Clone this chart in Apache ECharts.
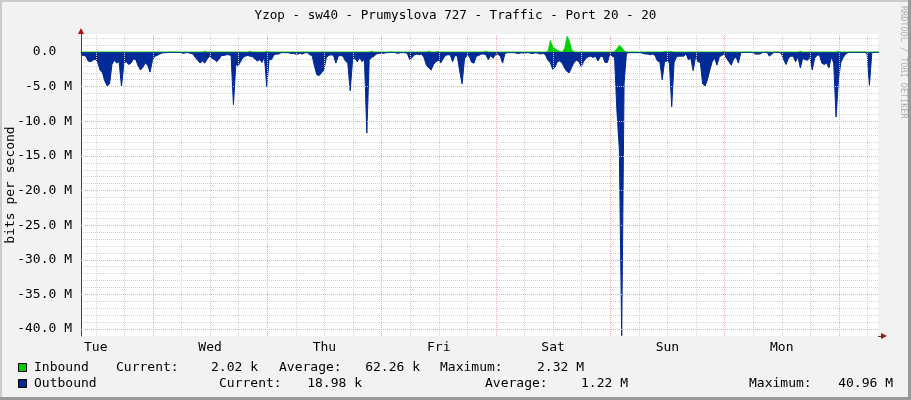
<!DOCTYPE html>
<html><head><meta charset="utf-8">
<script src="https://cdn.jsdelivr.net/npm/echarts@6/dist/echarts.min.js"></script>
<style>html,body{margin:0;padding:0;background:#f2f2f2}#c{width:911px;height:400px}</style>
</head><body><div id="c"></div>
<script>
// ---- data ----
const chartTitle = 'Yzop - sw40 - Prumyslova 727 - Traffic - Port 20 - 20';
const startHour = 8.9;      // hours after Tue 00:00 at left edge
const endHour = 176.2;
const stepHours = 0.5;
const dayLabels = ['Tue','Wed','Thu','Fri','Sat','Sun','Mon'];
const dayLabelHours = [12,36,60,84,108,132,156];
const majorXHours = [24,48,72,96,120,144,168];
const minorXHours = [12,18,30,36,42,54,60,66,78,84,90,102,108,114,126,132,138,150,156,162,174];
const majorYValues = [-5,-10,-15,-20,-25,-30,-35,-40];
// outbound traffic (Mbit/s, drawn negative)
const outbound = [
-0.4,-0.5,-0.6,-1.3,-1.4,-1.2,-1.0,-1.5,-2.6,-3.0,
-4.2,-4.9,-4.6,-1.8,-1.2,-1.6,-1.4,-5.0,-1.6,-1.4,
-1.8,-1.6,-1.0,-1.1,-2.0,-2.6,-2.2,-1.6,-1.9,-2.9,
-1.2,-0.6,-0.5,-0.3,-0.15,-0.1,-0.1,-0.05,-0.05,-0.05,
-0.05,-0.05,-0.1,-0.2,-0.1,-0.1,-0.2,-0.3,-0.8,-1.2,
-1.6,-1.3,-1.6,-1.0,-0.6,-0.9,-1.1,-1.4,-1.0,-0.5,
-0.5,-0.4,-0.4,-0.5,-7.6,-1.8,-2.0,-1.4,-0.8,-0.6,
-0.5,-0.6,-0.7,-1.0,-1.3,-1.1,-1.5,-0.7,-5.0,-1.0,
-1.1,-0.4,-0.3,-0.3,-0.1,-0.1,-0.1,-0.1,-0.2,-0.2,
-0.3,-0.3,-0.2,-0.3,-0.1,-0.1,-0.4,-0.5,-2.0,-3.3,
-3.4,-3.0,-2.6,-0.8,-0.5,-0.4,-0.5,-1.6,-0.6,-0.5,
-0.6,-1.3,-1.6,-5.6,-1.2,-0.9,-1.4,-0.8,-1.4,-1.0,
-11.7,-1.2,-0.8,-0.6,-0.3,-0.2,-0.2,-0.2,-0.1,-0.1,
-0.05,-0.05,-0.1,-0.2,-0.1,-0.1,-0.1,-0.2,-1.1,-0.8,
-0.4,-0.3,-0.4,-0.3,-0.8,-1.9,-2.3,-2.6,-1.8,-1.4,
-1.2,-1.6,-1.0,-0.5,-0.4,-0.4,-1.4,-0.5,-0.6,-2.8,
-4.6,-1.0,-0.5,-0.6,-1.5,-1.6,-0.6,-0.5,-0.3,-0.3,
-0.4,-1.1,-0.5,-0.9,-0.4,-0.3,-0.6,-1.6,-0.2,-0.1,
-0.1,-0.1,-0.1,-0.2,-0.2,-0.1,-0.2,-0.1,-0.1,-0.2,
-0.2,-0.1,-0.2,-0.3,-0.2,-0.4,-1.2,-1.5,-2.5,-2.2,
-1.4,-1.3,-1.6,-2.3,-2.8,-3.0,-2.2,-1.5,-1.2,-1.4,
-2.1,-1.4,-0.9,-0.7,-0.6,-0.8,-0.6,-1.3,-0.7,-0.6,
-1.5,-1.5,-0.3,-0.6,-0.8,-8.6,-14.0,-40.96,-4.5,-0.2,
-0.1,-0.1,-0.1,-0.1,-0.1,-0.1,-0.2,-0.3,-0.3,-0.4,
-0.3,-0.5,-1.3,-1.4,-4.0,-1.4,-1.3,-1.5,-7.9,-1.5,
-0.7,-0.6,-0.6,-0.6,-0.3,-1.1,-0.9,-2.7,-0.7,-1.4,
-1.5,-4.6,-4.9,-4.0,-2.6,-1.4,-0.9,-1.9,-0.7,-0.5,
-0.3,-0.9,-1.4,-1.9,-1.0,-0.7,-1.6,-0.1,-0.05,-0.05,
-0.05,-0.05,-0.1,-0.3,-0.3,-0.3,-0.1,-0.05,-0.05,-0.6,
-0.3,-0.05,-0.05,-0.05,-0.2,-1.1,-1.8,-0.9,-0.6,-0.6,
-1.4,-0.7,-2.3,-0.9,-1.1,-1.2,-0.7,-2.6,-0.9,-0.5,
-0.4,-1.6,-1.8,-1.6,-2.3,-0.7,-1.6,-9.4,-4.0,-1.5,
-0.8,-0.3,-0.1,-0.05,-0.05,-0.05,-0.05,-0.05,-0.05,-0.05,
-0.2,-4.8,-0.1,-0.05,-0.05,-0.05
];
// inbound traffic (Mbit/s)
const inbound = [
0.02,0.02,0.02,0.02,0.02,0.02,0.02,0.02,0.02,0.02,
0.02,0.02,0.02,0.02,0.02,0.02,0.02,0.02,0.02,0.02,
0.02,0.02,0.02,0.02,0.02,0.02,0.02,0.02,0.02,0.02,
0.02,0.02,0.02,0.02,0.02,0.02,0.02,0.02,0.02,0.02,
0.02,0.02,0.02,0.02,0.02,0.02,0.02,0.02,0.02,0.02,
0.02,0.02,0.15,0.02,0.02,0.02,0.02,0.02,0.02,0.02,
0.02,0.02,0.02,0.02,0.02,0.02,0.02,0.02,0.02,0.02,
0.02,0.15,0.02,0.02,0.02,0.02,0.02,0.02,0.15,0.02,
0.02,0.02,0.02,0.02,0.02,0.02,0.02,0.02,0.02,0.02,
0.02,0.02,0.02,0.02,0.02,0.02,0.02,0.02,0.02,0.02,
0.02,0.02,0.02,0.02,0.02,0.02,0.02,0.02,0.02,0.02,
0.02,0.02,0.02,0.02,0.02,0.02,0.02,0.02,0.02,0.02,
0.02,0.02,0.15,0.02,0.02,0.02,0.02,0.02,0.02,0.02,
0.02,0.02,0.02,0.02,0.02,0.02,0.02,0.02,0.02,0.02,
0.02,0.02,0.02,0.02,0.02,0.02,0.15,0.02,0.02,0.02,
0.15,0.02,0.02,0.02,0.02,0.02,0.02,0.02,0.02,0.02,
0.02,0.02,0.02,0.02,0.02,0.02,0.02,0.02,0.02,0.02,
0.15,0.02,0.02,0.02,0.02,0.02,0.02,0.02,0.02,0.02,
0.02,0.02,0.02,0.02,0.02,0.02,0.02,0.02,0.02,0.02,
0.02,0.02,0.02,0.02,0.02,0.02,0.1,1.7,0.9,0.5,
0.3,0.1,0.02,0.5,2.32,1.7,0.4,0.02,0.02,0.02,
0.02,0.02,0.02,0.02,0.02,0.02,0.02,0.02,0.02,0.02,
0.02,0.02,0.02,0.02,0.1,0.5,1.0,0.7,0.2,0.02,
0.02,0.02,0.02,0.02,0.02,0.02,0.02,0.02,0.02,0.02,
0.02,0.02,0.02,0.02,0.02,0.1,0.1,0.1,0.1,0.02,
0.02,0.02,0.02,0.02,0.02,0.02,0.02,0.02,0.02,0.02,
0.02,0.02,0.02,0.02,0.02,0.02,0.02,0.02,0.02,0.02,
0.15,0.02,0.02,0.02,0.02,0.02,0.02,0.02,0.02,0.02,
0.02,0.02,0.02,0.02,0.02,0.02,0.02,0.02,0.02,0.02,
0.02,0.02,0.02,0.02,0.02,0.02,0.02,0.02,0.02,0.02,
0.02,0.02,0.15,0.02,0.02,0.02,0.02,0.02,0.02,0.02,
0.02,0.02,0.02,0.02,0.02,0.02,0.02,0.02,0.15,0.02,
0.02,0.02,0.02,0.02,0.02,0.02,0.02,0.02,0.02,0.02,
0.02,0.02,0.02,0.02,0.02,0.02
];
const legendNames = ['Inbound','Outbound'];
const inboundStats = ['2.02 k','62.26 k','2.32 M'];
const outboundStats = ['18.98 k','1.22 M','40.96 M'];
const statLabels = ['Current:','Average:','Maximum:'];

// ---- chart ----
const FONT = '"DejaVu Sans Mono", monospace';
const FS = 13;
const GREEN = '#00CF00', BLUE = '#002A97';
const GRID_GRAY = '#d2d2d2', GRID_RED = '#f0a8a8';
const times = outbound.map((_, i) => startHour + i * stepHours);
const chart = echarts.init(document.getElementById('c'), null, {renderer: 'canvas'});

function txt(x, y, s, align) {
  return {type: 'text', x: x, y: y, silent: true,
    style: {text: s, fill: '#000', font: FS + 'px ' + FONT, textAlign: align || 'left', textVerticalAlign: 'middle'}};
}
const graphics = [
  // 3D frame
  {type: 'rect', shape: {x: 0, y: 0, width: 911, height: 2}, style: {fill: '#cbcbcb'}, silent: true},
  {type: 'rect', shape: {x: 0, y: 0, width: 2, height: 400}, style: {fill: '#cbcbcb'}, silent: true},
  {type: 'rect', shape: {x: 0, y: 397, width: 911, height: 3}, style: {fill: '#999999'}, silent: true},
  {type: 'rect', shape: {x: 908, y: 0, width: 3, height: 400}, style: {fill: '#999999'}, silent: true},
  // axis arrows
  {type: 'polygon', shape: {points: [[78, 34], [84, 34], [81, 28]]}, style: {fill: '#a31515'}, silent: true},
  {type: 'polygon', shape: {points: [[881, 333], [881, 339], [887, 336]]}, style: {fill: '#a31515'}, silent: true},
  {type: 'line', shape: {x1: 878, y1: 336.5, x2: 882, y2: 336.5}, style: {stroke: '#444', lineWidth: 1}, silent: true},
  // watermark
  {type: 'text', x: 903, y: 6, rotation: -Math.PI / 2, silent: true,
    style: {text: 'RRDTOOL / TOBI OETIKER', fill: '#b0b0b0', font: '8.5px ' + FONT, textAlign: 'left', textVerticalAlign: 'middle'}},
  // legend boxes
  {type: 'rect', shape: {x: 18.5, y: 363.5, width: 8, height: 8}, style: {fill: GREEN, stroke: '#000', lineWidth: 1}, silent: true},
  {type: 'rect', shape: {x: 18.5, y: 379.5, width: 8, height: 8}, style: {fill: BLUE, stroke: '#000', lineWidth: 1}, silent: true},
  txt(34, 368, legendNames[0]),
  txt(116, 368, statLabels[0]), txt(258, 368, inboundStats[0], 'right'),
  txt(279, 368, statLabels[1]), txt(420, 368, inboundStats[1], 'right'),
  txt(440, 368, statLabels[2]), txt(584, 368, inboundStats[2], 'right'),
  txt(34, 384, legendNames[1]),
  txt(219, 384, statLabels[0]), txt(362, 384, outboundStats[0], 'right'),
  txt(485, 384, statLabels[1]), txt(628, 384, outboundStats[1], 'right'),
  txt(749, 384, statLabels[2]), txt(893, 384, outboundStats[2], 'right')
];

const option = {
  animation: false,
  backgroundColor: '#f2f2f2',
  title: {text: chartTitle, left: 'center', top: 4,
    textStyle: {fontFamily: FONT, fontSize: 12.6, fontWeight: 'normal', color: '#000'}},
  grid: {left: 81, right: 33, top: 34, bottom: 64, show: true, backgroundColor: '#ffffff', borderWidth: 0,
    containLabel: false, outerBoundsMode: 'none'},
  xAxis: {type: 'value', min: startHour, max: endHour,
    axisLine: {show: true, lineStyle: {color: '#444', width: 1}},
    axisTick: {show: false},
    splitLine: {show: false},
    axisLabel: {customValues: dayLabelHours, margin: 5, color: '#000', fontFamily: FONT, fontSize: FS,
      formatter: v => { const k = dayLabelHours.indexOf(v); return k >= 0 ? dayLabels[k] : ''; }}},
  yAxis: {type: 'value', min: -41, max: 2.6, interval: 1,
    name: 'bits per second', nameLocation: 'middle', nameGap: 64, nameMoveOverlap: false,
    nameTextStyle: {fontFamily: FONT, fontSize: FS, color: '#000'},
    axisLine: {show: true, lineStyle: {color: '#444', width: 1}},
    axisTick: {show: false},
    splitLine: {show: true, showMinLine: false, showMaxLine: false, lineStyle: {color: GRID_GRAY, type: [1, 1], width: 1}},
    axisLabel: {margin: 9, color: '#000', fontFamily: FONT, fontSize: FS,
      formatter: v => (Math.abs(v % 5) < 1e-9 && v <= 0) ? (v === 0 ? '0.0  ' : v.toFixed(1) + ' M') : ''}},
  series: [
    {type: 'line', name: 'minor grid', data: [], silent: true, z: 1,
      markLine: {silent: true, symbol: 'none', animation: false, label: {show: false},
        lineStyle: {color: GRID_GRAY, type: [1, 1], width: 1},
        data: minorXHours.map(h => ({xAxis: h}))}},
    {type: 'line', name: 'major grid', data: [], silent: true, z: 1,
      markLine: {silent: true, symbol: 'none', animation: false, label: {show: false},
        lineStyle: {color: GRID_RED, type: [1, 1], width: 1},
        data: majorXHours.map(h => ({xAxis: h})).concat(majorYValues.map(v => ({yAxis: v})))}},
    {type: 'line', name: legendNames[1], z: 3, showSymbol: false, symbol: 'none', sampling: null,
      data: times.map((t, i) => [t, outbound[i]]),
      lineStyle: {color: BLUE, width: 1}, areaStyle: {color: BLUE, opacity: 1, origin: 0}},
    {type: 'line', name: legendNames[0], z: 3, showSymbol: false, symbol: 'none',
      data: times.map((t, i) => [t, inbound[i]]),
      lineStyle: {color: GREEN, width: 0.5}, areaStyle: {color: GREEN, opacity: 1, origin: 0}}
  ],
  graphic: graphics
};
chart.setOption(option);
</script>
</body></html>
